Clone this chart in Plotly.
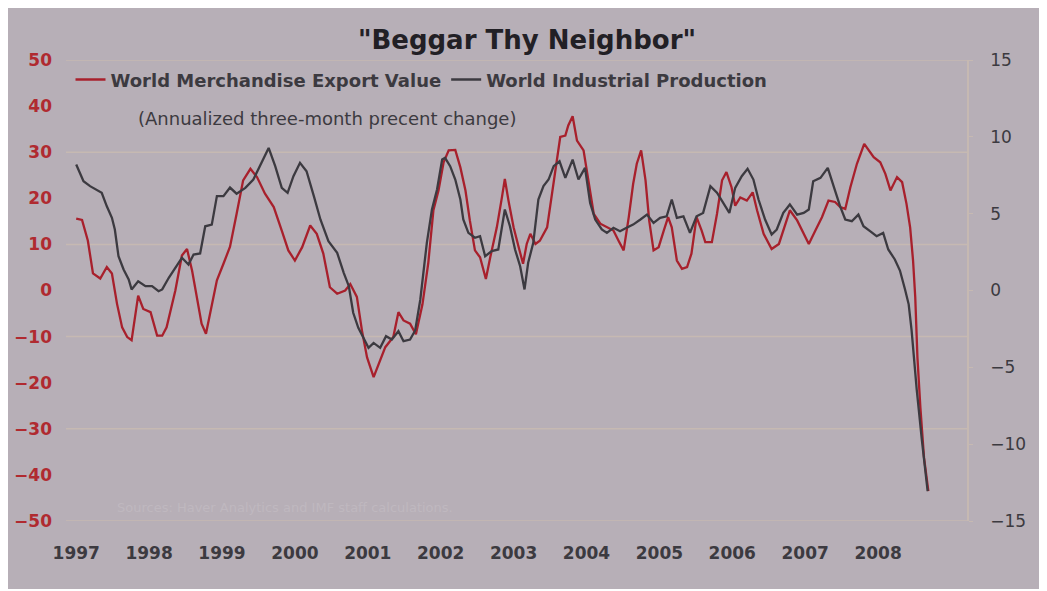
import plotly.graph_objects as go

# ---- data ----
export_years = [1997.00,1997.08,1997.16,1997.23,1997.33,1997.42,1997.49,1997.56,1997.63,1997.70,1997.76,1997.85,1997.92,
                1998.02,1998.11,1998.18,1998.24,1998.36,1998.45,1998.52,1998.59,1998.66,1998.72,1998.78,1998.86,1998.93,
                1999.02,1999.11,1999.20,1999.29,1999.39,1999.48,1999.59,1999.71,1999.82,1999.91,
                2000.00,2000.10,2000.21,2000.30,2000.39,2000.48,2000.58,2000.69,2000.76,2000.85,2000.92,2000.99,
                2001.08,2001.15,2001.24,2001.35,2001.42,2001.49,2001.58,2001.66,2001.75,2001.83,2001.90,2001.97,
                2002.04,2002.11,2002.20,2002.27,2002.34,2002.40,2002.47,2002.54,2002.62,2002.68,2002.77,2002.84,2002.88,2002.93,
                2003.00,2003.07,2003.13,2003.18,2003.23,2003.30,2003.36,2003.46,2003.53,2003.59,2003.64,2003.71,2003.75,2003.81,2003.87,2003.96,
                2004.03,2004.10,2004.19,2004.28,2004.37,2004.44,2004.51,2004.58,2004.64,2004.69,2004.75,2004.81,2004.86,2004.92,2004.99,
                2005.06,2005.12,2005.17,2005.24,2005.31,2005.38,2005.44,2005.51,2005.58,2005.63,2005.72,2005.79,2005.86,2005.92,2005.99,
                2006.04,2006.11,2006.20,2006.28,2006.34,2006.43,2006.54,2006.64,2006.73,2006.79,2006.89,2006.98,
                2007.05,2007.14,2007.23,2007.32,2007.41,2007.48,2007.55,2007.62,2007.71,2007.81,2007.87,2007.94,
                2008.03,2008.10,2008.17,2008.26,2008.33,2008.39,2008.44,2008.48,2008.51,2008.54,2008.58,2008.63,2008.69]
export_values = [15.6,15.3,10.8,3.7,2.6,5.1,3.7,-2.9,-8.0,-10.1,-10.8,-1.1,-4.0,
                 -4.7,-9.8,-9.8,-8.0,0.0,7.6,9.0,4.3,-2.2,-7.2,-9.4,-2.9,2.2,
                 5.8,9.5,16.6,23.9,26.4,24.6,21.0,18.1,13.0,8.7,
                 6.5,9.4,14.1,12.3,8.0,0.7,-0.7,0.0,1.4,-1.4,-8.7,-14.5,
                 -18.8,-15.9,-12.3,-10.1,-4.7,-6.5,-7.2,-9.5,-3.0,6.0,17.4,21.7,
                 27.8,30.4,30.5,26.7,21.7,15.2,8.7,7.2,2.5,7.2,13.7,20.2,24.2,19.5,
                 13.7,9.4,5.8,10.1,12.3,10.1,10.8,13.7,21.0,28.2,33.3,33.6,35.8,37.8,32.5,30.4,
                 23.1,16.6,14.5,13.7,13.0,10.8,8.7,15.9,23.1,27.5,30.4,23.9,15.2,8.7,9.4,
                 13.0,15.9,13.7,6.5,4.7,5.1,8.0,15.9,13.0,10.5,10.5,16.6,23.9,25.7,22.4,
                 18.4,20.2,19.5,21.3,17.4,12.3,9.0,10.1,14.5,17.4,15.2,12.3,
                 10.1,13.0,15.9,19.5,19.2,18.1,17.7,22.4,27.5,31.8,30.4,28.9,
                 27.8,25.3,21.7,24.6,23.5,18.8,13.7,6.5,-1.4,-14.5,-25.3,-36.2,-43.5]

production_years = [1997.00,1997.05,1997.10,1997.19,1997.28,1997.35,1997.42,1997.49,1997.53,1997.58,1997.65,1997.72,1997.76,1997.85,1997.95,
                    1998.04,1998.13,1998.18,1998.27,1998.36,1998.45,1998.54,1998.61,1998.70,1998.77,1998.86,1998.93,
                    1999.02,1999.11,1999.20,1999.32,1999.43,1999.55,1999.64,1999.73,1999.82,1999.90,1999.98,
                    2000.07,2000.16,2000.26,2000.35,2000.46,2000.58,2000.67,2000.74,2000.80,2000.87,2000.94,
                    2001.01,2001.08,2001.17,2001.25,2001.33,2001.42,2001.49,2001.58,2001.65,2001.72,2001.81,2001.88,2001.95,
                    2002.02,2002.06,2002.13,2002.20,2002.27,2002.31,2002.38,2002.47,2002.54,2002.61,2002.70,2002.79,2002.88,2002.95,
                    2003.02,2003.09,2003.15,2003.20,2003.27,2003.34,2003.41,2003.48,2003.55,2003.63,2003.71,2003.81,2003.89,2003.98,
                    2004.05,2004.12,2004.21,2004.28,2004.37,2004.46,2004.55,2004.64,2004.74,2004.83,2004.92,
                    2005.01,2005.10,2005.17,2005.24,2005.33,2005.42,2005.51,2005.60,2005.70,2005.79,2005.88,2005.96,
                    2006.04,2006.13,2006.21,2006.29,2006.36,2006.45,2006.54,2006.61,2006.70,2006.79,2006.89,2006.98,
                    2007.05,2007.11,2007.21,2007.31,2007.39,2007.48,2007.55,2007.64,2007.73,2007.80,2007.89,2007.98,
                    2008.07,2008.14,2008.23,2008.30,2008.37,2008.42,2008.46,2008.53,2008.60,2008.68]
production_values = [8.2,7.66,7.11,6.79,6.57,6.36,5.48,4.73,3.97,2.23,1.37,0.72,0.07,0.6,0.28,
                     0.28,-0.05,0.07,0.83,1.48,2.13,1.69,2.34,2.41,4.18,4.29,6.14,
                     6.14,6.7,6.3,6.68,7.22,8.41,9.28,8.09,6.68,6.36,7.44,
                     8.31,7.76,6.14,4.62,3.21,2.45,1.15,0.28,-1.45,-2.43,-3.08,
                     -3.73,-3.41,-3.73,-2.97,-3.19,-2.65,-3.3,-3.19,-2.6,-0.6,3.1,5.27,6.57,
                     8.52,8.63,8.09,7.22,5.92,4.62,3.75,3.43,3.53,2.23,2.56,2.67,5.27,4.18,
                     2.67,1.58,0.07,1.8,3.1,5.92,6.79,7.22,8.09,8.41,7.33,8.52,7.22,7.98,
                     5.7,4.62,3.97,3.75,4.08,3.86,4.08,4.29,4.62,4.94,4.4,
                     4.73,4.83,5.92,4.73,4.83,3.75,4.83,5.05,6.79,6.36,5.7,5.05,
                     6.68,7.44,7.92,7.22,5.92,4.62,3.64,3.97,5.05,5.6,4.94,5.05,
                     5.27,7.11,7.33,7.98,6.79,5.48,4.62,4.51,4.94,4.18,3.86,3.53,
                     3.75,2.67,2.02,1.3,0.07,-0.9,-2.6,-6.44,-9.69,-13.05]

year_ticks = [1997, 1998, 1999, 2000, 2001, 2002, 2003, 2004, 2005, 2006, 2007, 2008]
year_labels = [str(y) for y in year_ticks]
left_ticks = [50, 40, 30, 20, 10, 0, -10, -20, -30, -40, -50]
right_ticks = [15, 10, 5, 0, -5, -10, -15]
grid_levels = [50, 30, 10, -10, -30, -50]

title_text = '"Beggar Thy Neighbor"'
subtitle_text = "(Annualized three-month precent change)"
source_text = "Sources: Haver Analytics and IMF staff calculations."

# ---- styles ----
BG = "#b7afb7"
GRID = "#c6b9b2"
RED = "#a8202c"
DARK = "#3c3a40"
FONT = "DejaVu Sans"

fig = go.Figure()
fig.add_trace(go.Scatter(x=export_years, y=export_values, mode="lines",
                         name="World Merchandise Export Value",
                         line=dict(color=RED, width=2.3), yaxis="y"))
fig.add_trace(go.Scatter(x=production_years, y=production_values, mode="lines",
                         name="World Industrial Production",
                         line=dict(color=DARK, width=2.3), yaxis="y2"))

# horizontal gridlines at the levels drawn in the reference
for g in grid_levels:
    fig.add_hline(y=g, line=dict(color=GRID, width=1.5), layer="below")

fig.update_layout(
    width=1039, height=581,
    paper_bgcolor=BG, plot_bgcolor=BG,
    margin=dict(l=58, r=80, t=52, b=68, autoexpand=False),
    font=dict(family=FONT, color=DARK),
    title=dict(text="<b>" + title_text + "</b>", x=0.4995, xanchor="center",
               y=0.945, yanchor="middle", font=dict(size=26, color="#222025", family=FONT)),
    xaxis=dict(range=[1996.86, 2009.22], tickvals=year_ticks, ticktext=year_labels,
               showgrid=False, zeroline=False, showline=False, ticks="", automargin=False,
               tickfont=dict(size=17, color=DARK, family=FONT, weight="bold"),
               ticklabelstandoff=20),
    yaxis=dict(range=[-50, 50], tickvals=left_ticks, showgrid=False, zeroline=False,
               showline=False, ticks="", automargin=False,
               tickfont=dict(size=17, color="#b02a30", family=FONT, weight="bold"),
               ticklabelstandoff=13),
    yaxis2=dict(range=[-15, 15], tickvals=right_ticks, overlaying="y", side="right",
                showgrid=False, zeroline=False, showline=True, linecolor=GRID, linewidth=1.5,
                ticks="outside", ticklen=4, tickcolor=GRID, automargin=False,
                tickfont=dict(size=17, color=DARK, family=FONT),
                ticklabelstandoff=14),
    showlegend=True,
    legend=dict(orientation="h", x=0.005, y=0.957, xanchor="left", yanchor="middle",
                bgcolor="rgba(0,0,0,0)",
                font=dict(size=18, color=DARK, family=FONT, weight="bold"),
                itemwidth=30, tracegroupgap=0),
)

fig.add_annotation(text=subtitle_text, xref="paper", yref="paper",
                   x=0.078, y=0.874, xanchor="left", yanchor="middle", showarrow=False,
                   font=dict(size=18, color=DARK, family=FONT))
fig.add_annotation(text=source_text, xref="paper", yref="paper",
                   x=0.054, y=0.03, xanchor="left", yanchor="middle", showarrow=False,
                   font=dict(size=13, color="#bfb8bf", family=FONT))

fig.write_html("out.html")
